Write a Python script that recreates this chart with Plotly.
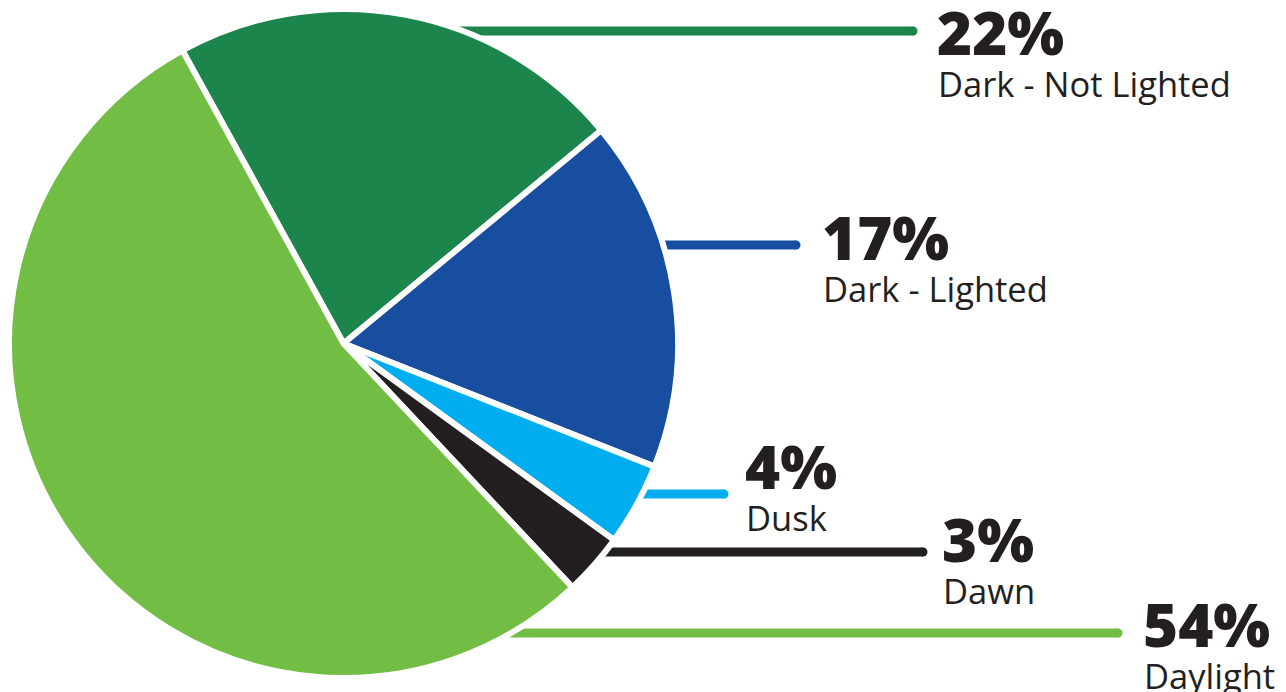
import plotly.graph_objects as go

# Share of crashes by light condition
categories = ["Dark - Not Lighted", "Dark - Lighted", "Dusk", "Dawn", "Daylight"]
shares = [22, 17, 4, 3, 54]
colors = ["#1b854b", "#174ea0", "#00aeef", "#231f20", "#72be44"]

# Label block placement (pixels from top-left): leader line y, line end x, text x
label_layout = {
    "Dark - Not Lighted": dict(line_y=31, line_end=913, text_x=935, num_base=61),
    "Dark - Lighted": dict(line_y=245, line_end=796, text_x=820, num_base=266),
    "Dusk": dict(line_y=494, line_end=724, text_x=743, num_base=495),
    "Dawn": dict(line_y=552, line_end=923, text_x=940, num_base=568),
    "Daylight": dict(line_y=633, line_end=1118, text_x=1141, num_base=653),
}

W, H = 1286, 692
CX, CY, R = 343.5, 343.5, 334.5
LINE_W = 9
DARK = "#231f20"


def px(x):
    return x / W


def py(y):
    return 1 - y / H


fig = go.Figure()
fig.add_trace(go.Pie(
    labels=categories,
    values=shares,
    sort=False,
    direction="clockwise",
    rotation=-28.8,
    marker=dict(colors=colors, line=dict(color="white", width=6)),
    textinfo="none",
    hovertemplate="%{label}: %{value}%<extra></extra>",
    showlegend=False,
    domain=dict(x=[px(CX - R), px(CX + R)], y=[py(CY + R), py(CY - R)]),
))

shapes = []
annotations = []
for name, val, col in zip(categories, shares, colors):
    lay = label_layout[name]
    y = lay["line_y"]
    # leader line runs beneath the pie, out to the label
    shapes.append(dict(type="line", layer="below", xref="paper", yref="paper",
                       x0=px(CX), x1=px(lay["line_end"]), y0=py(y), y1=py(y),
                       line=dict(color=col, width=LINE_W)))
    # rounded end cap
    r = LINE_W / 2
    shapes.append(dict(type="circle", layer="below", xref="paper", yref="paper",
                       x0=px(lay["line_end"] - r), x1=px(lay["line_end"] + r),
                       y0=py(y + r), y1=py(y - r),
                       fillcolor=col, line=dict(width=0)))
    nb = lay["num_base"]
    annotations.append(dict(
        text=f"{val}%", xref="paper", yref="paper", x=px(lay["text_x"]), y=py(nb + 14),
        xanchor="left", yanchor="bottom", showarrow=False,
        font=dict(family="Open Sans", size=60, color=DARK, weight=800)))
    annotations.append(dict(
        text=name, xref="paper", yref="paper", x=px(lay["text_x"] + 1), y=py(nb + 48),
        xanchor="left", yanchor="bottom", showarrow=False,
        font=dict(family="Open Sans", size=34.5, color=DARK)))

fig.update_layout(
    width=W, height=H,
    margin=dict(l=0, r=0, t=0, b=0),
    paper_bgcolor="white",
    plot_bgcolor="white",
    shapes=shapes,
    annotations=annotations,
)

fig.write_html("out.html")
